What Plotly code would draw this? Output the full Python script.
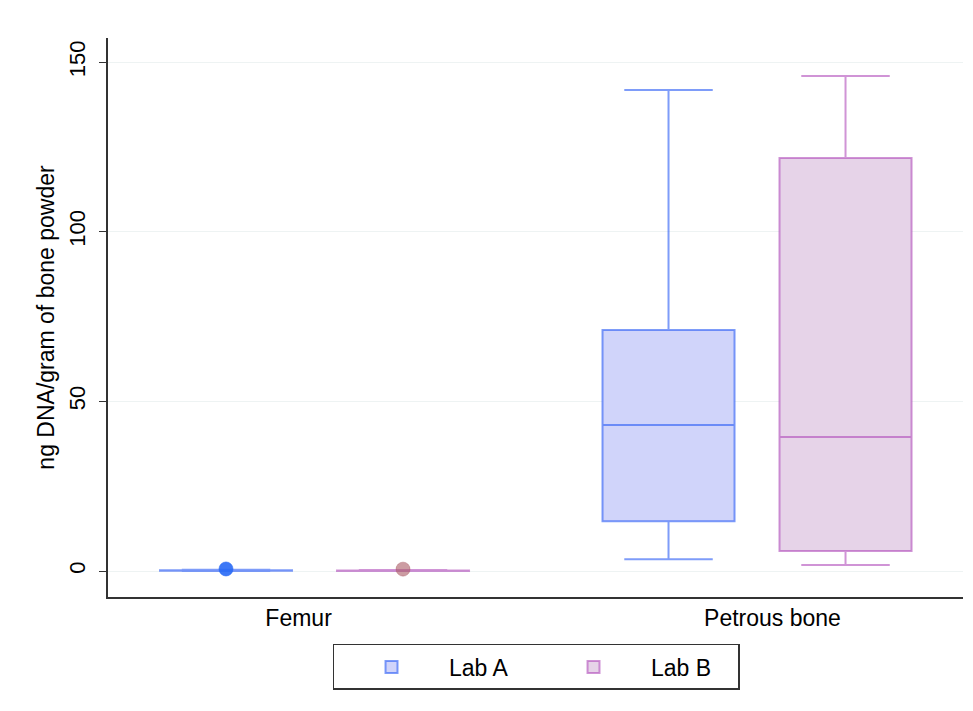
import plotly.graph_objects as go

# ---- data ----
categories = ["Femur", "Petrous bone"]
cat_pos = [1, 2]
tick_pos = [0.964, 2.035]

labA_lower = [0.02, 3.5]
labA_q1 = [0.05, 14.7]
labA_median = [0.12, 43.0]
labA_q3 = [0.25, 71.0]
labA_upper = [0.4, 141.8]
labA_outlier = [0.6]

labB_lower = [0.01, 1.8]
labB_q1 = [0.04, 5.9]
labB_median = [0.1, 39.5]
labB_q3 = [0.18, 121.7]
labB_upper = [0.3, 145.9]
labB_outlier = [0.55]

box_gap = 0.2
box_group_gap = 0.254
# box centre offset inside a category for a 2-trace grouped layout
half = 0.5 * (cat_pos[1] - cat_pos[0])
offA = -0.5 * half * (1 - box_gap)
offB = 0.5 * half * (1 - box_gap)

colA_line = "rgba(40,90,245,0.6)"
colA_fill = "rgba(208,212,250,1)"
colB_line = "rgba(170,60,180,0.55)"
colB_fill = "rgba(230,211,232,1)"

fig = go.Figure()
fig.add_trace(go.Box(
    name="Lab A", x=cat_pos, q1=labA_q1, median=labA_median, q3=labA_q3,
    lowerfence=labA_lower, upperfence=labA_upper,
    fillcolor=colA_fill, line=dict(color=colA_line, width=2),
    whiskerwidth=0.67, offsetgroup="A", boxpoints=False,
))
fig.add_trace(go.Box(
    name="Lab B", x=cat_pos, q1=labB_q1, median=labB_median, q3=labB_q3,
    lowerfence=labB_lower, upperfence=labB_upper,
    fillcolor=colB_fill, line=dict(color=colB_line, width=2),
    whiskerwidth=0.67, offsetgroup="B", boxpoints=False,
))
fig.add_trace(go.Scatter(
    x=[cat_pos[0] + offA], y=labA_outlier, mode="markers", showlegend=False,
    marker=dict(size=14, color="rgba(40,105,245,0.9)",
                line=dict(width=1, color="rgba(40,105,245,0.6)")),
    hoverinfo="skip",
))
fig.add_trace(go.Scatter(
    x=[cat_pos[0] + offB], y=labB_outlier, mode="markers", showlegend=False,
    marker=dict(size=14, color="rgba(170,90,100,0.6)",
                line=dict(width=1, color="rgba(170,90,100,0.4)")),
    hoverinfo="skip",
))

font_family = "Liberation Sans, Arial, sans-serif"
fig.update_layout(
    width=965, height=703,
    boxmode="group", boxgap=box_gap, boxgroupgap=box_group_gap,
    paper_bgcolor="white", plot_bgcolor="white",
    margin=dict(l=100, r=10, t=30, b=114, autoexpand=False),
    font=dict(family=font_family, size=23, color="black"),
    showlegend=True,
    legend=dict(
        orientation="h", x=0.5006, xanchor="center", y=-0.084, yanchor="top",
        bordercolor="#333", borderwidth=1.5, font=dict(size=23),
        entrywidth=82, itemwidth=105,
    ),
    xaxis=dict(
        range=[0.5333, 2.4655], tickvals=tick_pos, ticktext=categories,
        showline=True, linecolor="#333", linewidth=1.5, ticks="",
        showgrid=False, zeroline=False, tickfont=dict(size=23),
    ),
    yaxis=dict(
        range=[-7.66, 157.1], tickvals=[0, 50, 100, 150],
        showline=True, linecolor="#333", linewidth=1.5,
        ticks="outside", ticklen=7, tickcolor="#333", tickwidth=1.2,
        tickangle=-90, showgrid=True, gridcolor="#EEF3F3", gridwidth=1,
        zeroline=False, tickfont=dict(size=22), ticklabelstandoff=5,
        title=dict(text="ng DNA/gram of bone powder", font=dict(size=23), standoff=4),
    ),
)

fig.write_html("out.html")
